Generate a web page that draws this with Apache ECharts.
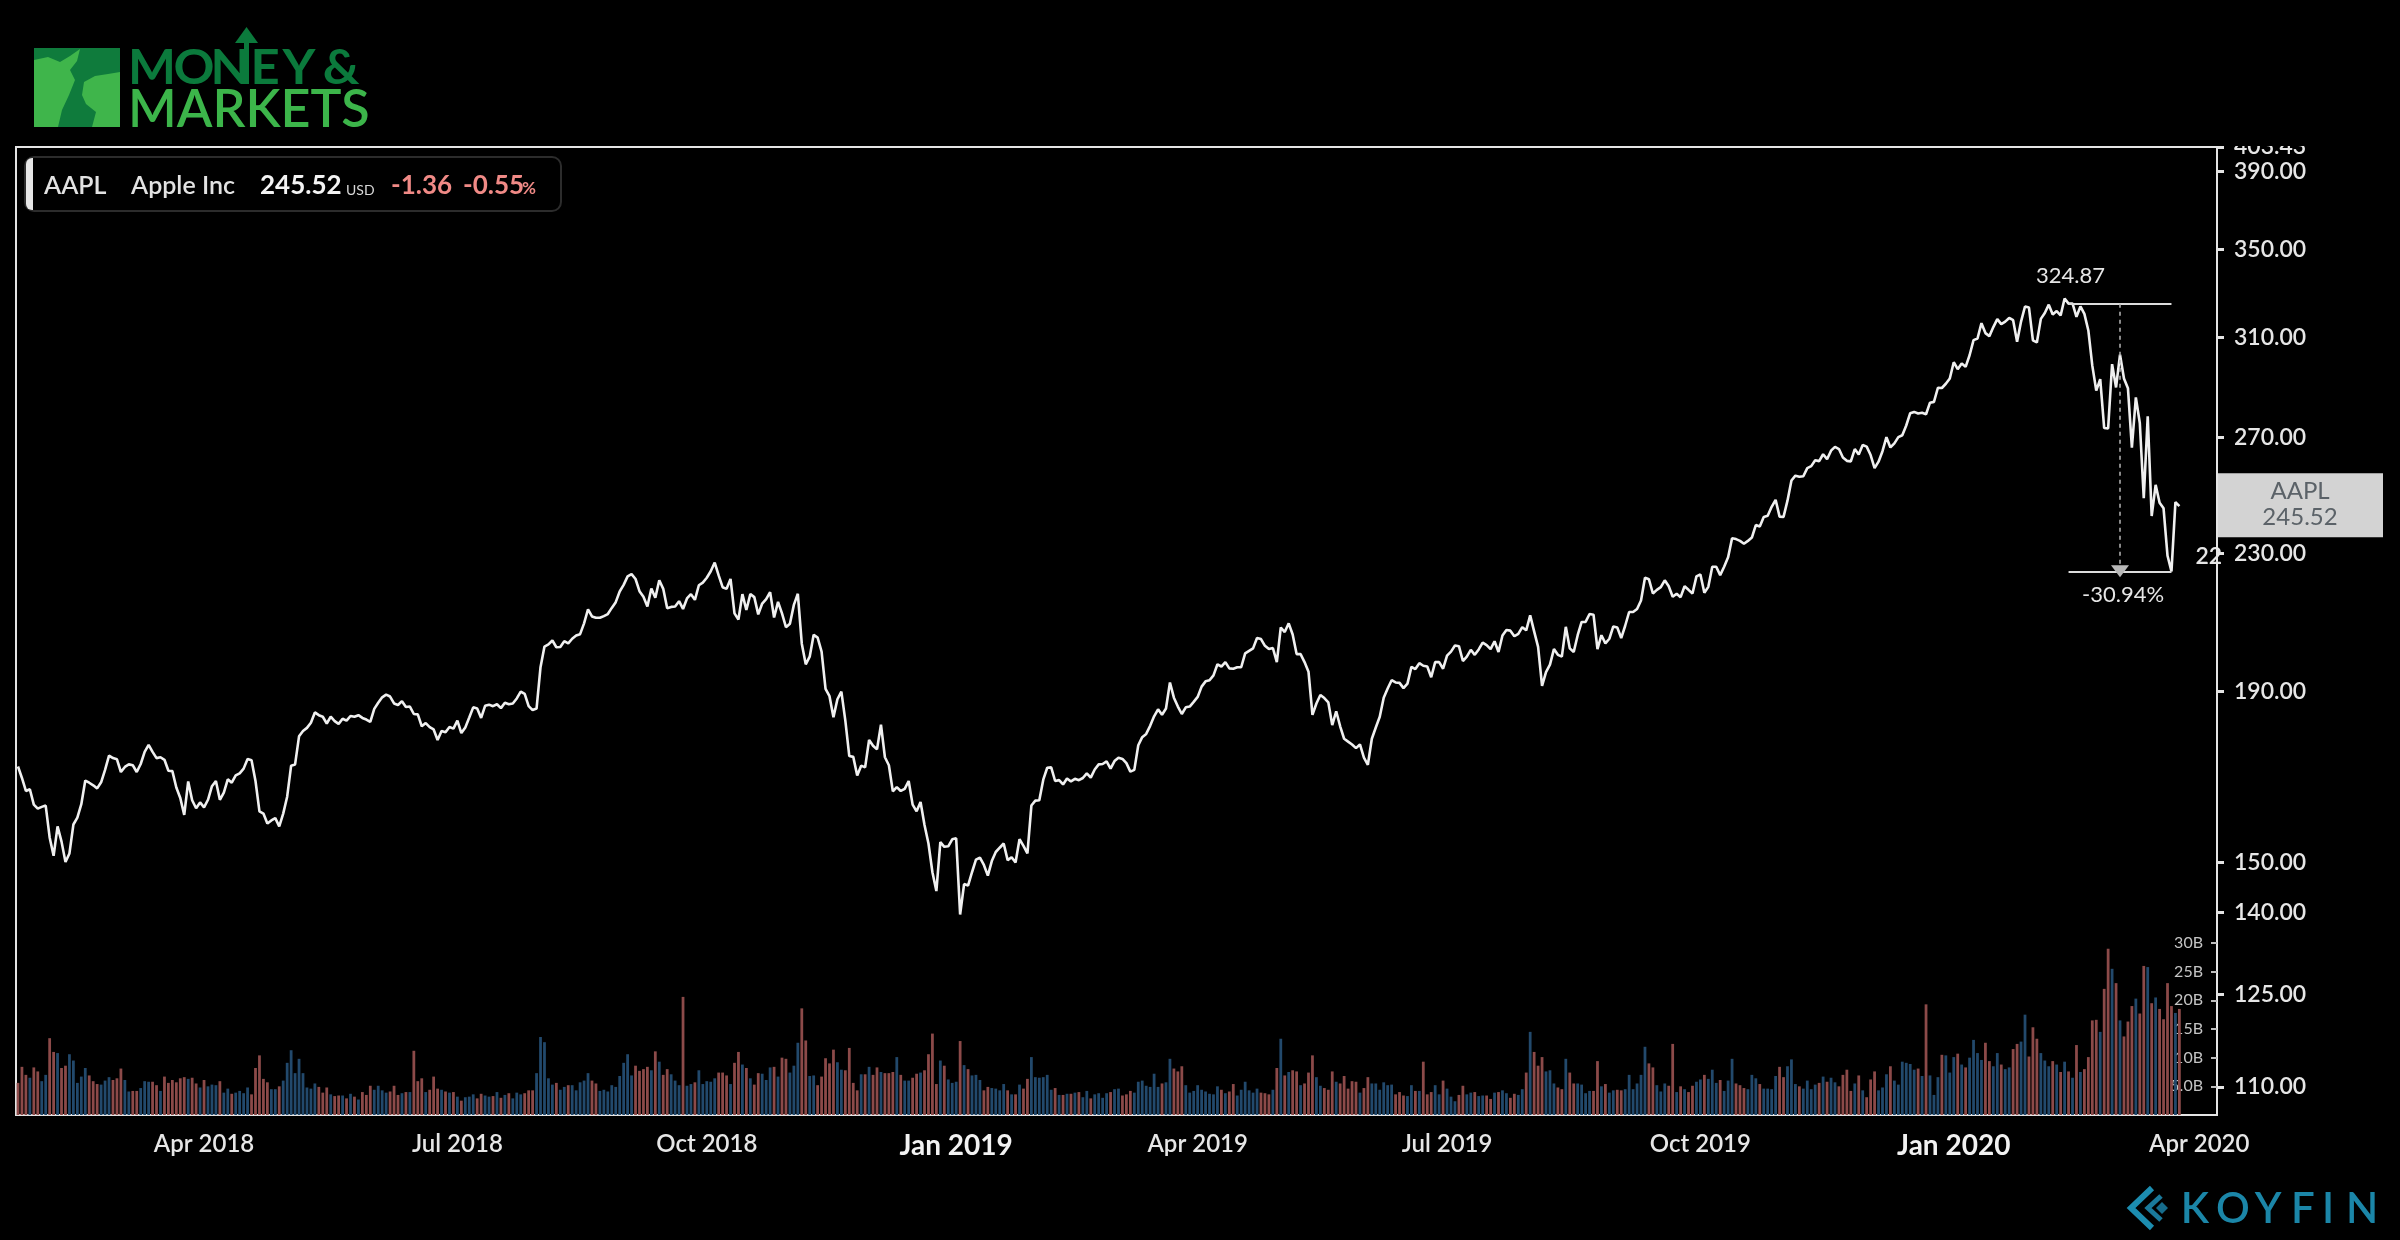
<!DOCTYPE html>
<html>
<head>
<meta charset="utf-8">
<title>AAPL - Apple Inc</title>
<script src="https://cdn.jsdelivr.net/npm/echarts@6/dist/echarts.min.js"></script>
<style>
  html, body { margin: 0; padding: 0; background: #000; }
  #main { width: 2400px; height: 1240px; }
</style>
</head>
<body>
<div id="main"></div>
<script>
// daily closes (USD, dividend adjusted), one array per month
const p2018Jan = [171.3, 168.6, 165.6, 166.0, 162.5, 161.6, 162.0];
const p2018Feb = [162.3, 155.3, 151.4, 157.7, 154.4, 150.1, 151.9, 158.1, 159.6, 162.6, 168.0, 167.5, 166.9, 166.2, 167.6, 170.5, 173.9, 173.3, 173.0];
const p2018Mar = [170.0, 171.2, 171.8, 171.6, 170.0, 171.9, 174.8, 176.5, 174.8, 173.3, 173.5, 172.9, 170.3, 170.2, 166.4, 164.0, 160.2, 167.8, 163.5, 161.7, 163.0];
const p2018Apr = [161.9, 163.6, 166.7, 167.9, 163.6, 165.2, 168.3, 167.5, 169.2, 169.7, 170.8, 173.1, 172.8, 167.9, 161.0, 160.5, 158.3, 159.0, 159.5, 157.7, 160.5];
const p2018May = [164.3, 171.5, 171.8, 178.6, 179.9, 180.7, 182.0, 184.6, 183.9, 183.5, 181.8, 183.5, 182.4, 181.7, 183.0, 182.5, 183.7, 183.5, 183.9, 183.2, 182.8, 182.2];
const p2018Jun = [185.5, 187.1, 188.5, 189.2, 188.7, 186.9, 186.5, 187.5, 186.0, 186.1, 184.2, 184.1, 181.1, 181.9, 180.9, 180.3, 177.7, 179.9, 179.6, 180.9, 180.5];
const p2018Jul = [182.5, 179.4, 180.8, 183.3, 185.9, 185.6, 183.2, 186.3, 186.6, 186.2, 186.7, 185.7, 187.1, 186.7, 186.9, 188.2, 190.0, 189.4, 186.2, 185.2, 185.6];
const p2018Aug = [196.5, 202.2, 202.8, 203.9, 202.0, 202.1, 203.7, 203.1, 204.4, 205.3, 205.7, 208.8, 212.9, 210.8, 210.4, 210.4, 210.9, 211.5, 213.3, 215.0, 218.2, 220.2, 222.8];
const p2018Sep = [223.5, 222.0, 218.3, 216.6, 213.7, 219.1, 216.3, 221.6, 219.0, 213.2, 213.6, 213.7, 215.3, 213.0, 216.1, 217.4, 215.7, 220.1, 220.9];
const p2018Oct = [222.4, 224.4, 227.1, 223.1, 219.5, 219.0, 222.0, 211.7, 209.9, 217.4, 212.7, 217.4, 216.5, 211.4, 214.6, 215.9, 218.0, 210.5, 215.1, 211.7, 207.7, 208.7, 214.2];
const p2018Nov = [217.5, 203.0, 197.3, 199.4, 205.5, 204.7, 200.8, 190.7, 188.8, 183.4, 188.0, 190.0, 182.5, 173.8, 173.6, 169.2, 171.5, 171.1, 177.7, 176.3, 175.4];
const p2018Dec = [181.5, 173.5, 171.6, 165.5, 166.5, 165.6, 166.1, 167.9, 162.5, 161.0, 163.1, 158.0, 154.0, 148.0, 144.2, 154.3, 153.3, 153.4, 154.9];
const p2019Jan = [155.1, 139.6, 145.6, 145.3, 148.0, 150.6, 151.0, 149.5, 147.3, 150.3, 152.2, 153.1, 154.0, 150.5, 151.1, 150.0, 154.9, 153.5, 151.9, 162.3, 163.4];
const p2019Feb = [163.5, 168.2, 171.0, 171.1, 167.9, 168.1, 167.1, 168.5, 167.8, 168.4, 168.1, 168.6, 169.7, 168.7, 170.6, 171.8, 171.9, 172.5, 170.8];
const p2019Mar = [172.6, 173.4, 173.1, 172.1, 170.1, 170.5, 176.4, 178.4, 179.2, 181.2, 183.6, 185.4, 184.0, 185.6, 192.4, 188.4, 186.1, 184.2, 185.9, 186.1, 187.3];
const p2019Apr = [188.6, 191.3, 192.7, 193.0, 194.3, 197.3, 196.7, 197.9, 196.2, 196.1, 196.5, 196.5, 200.3, 201.0, 201.7, 204.6, 204.3, 202.4, 201.5, 201.8, 197.9];
const p2019May = [207.6, 206.3, 208.8, 205.6, 200.1, 200.1, 197.9, 195.3, 184.0, 186.9, 189.1, 188.3, 187.2, 181.4, 184.9, 181.1, 178.0, 177.3, 176.6, 175.7, 176.6, 173.4];
const p2019Jun = [171.7, 178.0, 180.8, 183.5, 188.4, 190.8, 193.0, 192.4, 192.3, 190.9, 192.1, 196.6, 196.0, 197.6, 196.9, 196.7, 193.8, 197.9, 197.9, 196.1];
const p2019Jul = [199.7, 200.8, 202.5, 202.3, 198.2, 199.4, 201.3, 199.9, 201.4, 203.3, 202.6, 201.5, 203.7, 200.7, 205.3, 206.9, 206.7, 205.1, 205.8, 207.7, 206.8, 211.1];
const p2019Aug = [206.5, 202.1, 191.5, 195.2, 197.2, 201.5, 199.9, 199.4, 207.8, 201.7, 200.7, 205.4, 209.2, 209.2, 211.5, 211.3, 201.5, 205.4, 203.1, 204.4, 207.9, 207.6];
const p2019Sep = [204.6, 208.1, 212.1, 212.1, 213.0, 215.5, 222.4, 221.9, 217.6, 218.7, 219.5, 221.6, 219.8, 216.6, 217.5, 216.5, 219.8, 218.7, 217.6, 222.8];
const p2019Oct = [223.4, 217.8, 219.6, 225.8, 225.8, 223.2, 225.8, 228.8, 234.9, 234.6, 234.0, 233.1, 234.0, 235.1, 239.2, 238.7, 241.9, 242.3, 245.3, 247.7, 242.0, 241.9, 247.4];
const p2019Nov = [254.4, 256.1, 255.7, 255.9, 258.8, 259.5, 261.6, 261.3, 263.8, 262.0, 265.1, 266.5, 265.7, 262.6, 261.4, 261.2, 265.7, 263.7, 267.2, 266.6];
const p2019Dec = [263.5, 258.8, 261.1, 264.9, 270.1, 266.3, 267.8, 270.1, 270.8, 274.5, 279.2, 279.7, 279.1, 279.4, 278.8, 283.3, 283.6, 289.2, 289.1, 290.8, 292.9];
const p2020Jan = [299.6, 296.7, 299.1, 297.7, 302.5, 308.9, 309.6, 316.2, 311.9, 310.6, 314.5, 318.0, 315.8, 316.9, 318.5, 317.5, 308.2, 316.9, 323.6, 323.1, 308.8];
const p2020Feb = [307.9, 318.1, 320.7, 324.4, 320.03, 321.55, 319.61, 327.20, 324.87, 324.95, 319.00, 323.62, 320.30, 313.05, 298.18, 288.08, 292.65, 273.52, 273.36];
const p2020Mar = [298.81, 289.32, 302.74, 292.92, 289.03, 266.17, 285.34, 275.43, 248.23, 277.97, 242.21, 252.86, 246.67, 244.78, 229.24, 224.37, 246.88, 245.52];

// daily volume, billions USD
const v2018Jan = [5.6, 8.4, 7.0, 6.5, 8.3, 7.6, 5.9];
const v2018Feb = [7.0, 13.4, 11.0, 10.8, 8.2, 8.6, 10.6, 9.5, 5.6, 6.7, 8.2, 6.9, 5.9, 5.4, 5.3, 6.0, 6.6, 6.1, 6.4];
const v2018Mar = [8.1, 6.1, 4.1, 4.2, 4.2, 4.7, 5.9, 5.8, 5.8, 5.2, 4.2, 6.7, 5.6, 6.1, 5.7, 6.4, 6.6, 6.3, 6.5, 5.5, 4.8];
const v2018Apr = [6.1, 5.0, 5.3, 5.2, 5.9, 3.9, 4.6, 3.7, 3.9, 4.2, 3.8, 4.8, 3.6, 8.2, 10.4, 6.3, 5.7, 4.5, 4.5, 5.0, 6.0];
const v2018May = [9.1, 11.3, 7.3, 9.8, 7.3, 4.8, 4.6, 5.5, 4.9, 3.9, 4.8, 3.6, 3.3, 3.4, 3.4, 2.9, 3.7, 3.2, 2.7, 4.0, 3.5, 5.1];
const v2018Jun = [4.4, 5.1, 4.3, 3.9, 4.1, 5.1, 3.5, 3.8, 4.0, 4.0, 11.2, 5.9, 6.4, 4.0, 4.4, 6.7, 4.6, 4.4, 4.1, 3.9, 4.0];
const v2018Jul = [3.2, 2.5, 3.1, 3.2, 3.6, 2.9, 3.7, 3.4, 3.2, 3.3, 4.0, 3.0, 3.5, 3.8, 2.9, 3.9, 3.6, 3.8, 4.3, 4.3, 7.3];
const v2018Aug = [13.6, 12.7, 6.4, 5.3, 5.6, 4.4, 4.9, 5.2, 5.2, 4.3, 5.7, 6.0, 7.3, 6.0, 5.5, 4.2, 4.4, 4.1, 5.2, 4.9, 6.8, 9.1, 10.6];
const v2018Sep = [6.9, 8.6, 7.7, 8.0, 8.4, 7.8, 11.1, 9.3, 7.0, 8.0, 7.1, 6.0, 5.2, 20.6, 5.1, 5.4, 5.7, 7.8, 5.4];
const v2018Oct = [5.9, 5.8, 6.4, 7.4, 7.4, 6.9, 5.4, 9.1, 11.0, 8.8, 8.2, 6.4, 5.3, 7.3, 7.2, 6.1, 8.3, 8.4, 6.7, 10.0, 9.8, 7.4, 8.6];
const v2018Nov = [12.6, 18.6, 13.0, 6.8, 6.9, 5.2, 6.7, 9.9, 9.0, 11.4, 9.2, 7.9, 7.8, 11.7, 5.6, 4.3, 7.1, 7.1, 8.4, 7.0, 8.3];
const v2018Dec = [7.5, 7.3, 7.3, 7.5, 10.1, 7.0, 6.0, 6.0, 6.5, 7.2, 7.4, 7.8, 10.6, 14.2, 5.4, 9.5, 8.6, 6.2, 5.6];
const v2019Jan = [5.8, 12.9, 8.7, 8.0, 6.9, 7.0, 6.1, 4.3, 4.9, 4.7, 4.6, 4.3, 5.4, 4.3, 3.6, 3.6, 5.3, 4.6, 6.3, 10.1, 6.6];
const v2019Feb = [6.5, 6.6, 7.0, 4.4, 4.7, 3.5, 3.5, 3.7, 3.7, 3.9, 4.0, 3.1, 4.2, 2.9, 3.6, 3.8, 3.0, 3.8, 4.0];
const v2019Mar = [4.5, 4.6, 3.4, 3.6, 4.2, 3.9, 5.8, 6.0, 5.1, 4.9, 7.2, 4.9, 5.5, 5.7, 9.8, 8.1, 7.6, 8.5, 5.2, 3.9, 4.2];
const v2019Apr = [5.2, 4.4, 4.1, 3.7, 3.6, 5.0, 4.4, 3.8, 4.1, 5.4, 3.4, 4.4, 5.8, 4.3, 3.9, 4.6, 3.9, 3.8, 3.6, 4.4, 8.2];
const v2019May = [13.3, 6.9, 7.5, 7.8, 7.6, 5.2, 5.5, 7.4, 10.4, 6.6, 5.1, 4.7, 4.4, 7.6, 5.8, 5.5, 6.8, 4.6, 5.9, 5.8, 3.9, 4.7];
const v2019Jun = [6.6, 5.5, 5.5, 4.4, 5.7, 5.2, 5.3, 3.6, 4.0, 3.4, 3.3, 5.2, 4.2, 4.2, 9.3, 3.6, 4.0, 5.2, 3.6, 6.0];
const v2019Jul = [4.6, 3.2, 2.4, 3.5, 5.1, 3.6, 3.9, 4.0, 3.3, 3.4, 3.4, 2.8, 3.9, 4.0, 4.3, 3.8, 3.0, 3.7, 3.5, 4.5, 7.4, 14.5];
const v2019Aug = [11.0, 8.6, 10.1, 7.6, 7.8, 5.5, 4.8, 4.5, 9.8, 7.4, 5.5, 5.5, 5.3, 3.8, 4.2, 4.2, 9.4, 5.0, 5.4, 3.9, 4.3, 4.4];
const v2019Sep = [4.3, 4.5, 7.0, 4.5, 5.5, 7.0, 11.9, 9.0, 8.3, 5.2, 4.1, 5.5, 5.1, 12.4, 4.0, 5.0, 4.5, 4.0, 5.1, 5.8];
const v2019Oct = [6.2, 7.0, 6.3, 7.9, 5.6, 6.1, 4.2, 6.0, 9.8, 5.5, 5.2, 4.7, 4.5, 7.0, 6.4, 5.4, 4.6, 4.6, 4.5, 6.8, 8.4, 6.6, 8.5];
const v2019Nov = [9.7, 5.4, 5.0, 4.6, 6.0, 4.5, 5.3, 5.6, 6.7, 5.8, 6.5, 5.7, 5.0, 7.0, 7.9, 4.2, 5.5, 6.9, 4.3, 3.1];
const v2019Dec = [6.2, 7.6, 4.3, 4.8, 7.1, 8.5, 6.0, 5.3, 9.3, 9.1, 8.9, 7.9, 8.1, 6.8, 19.3, 6.9, 3.5, 6.6, 10.5, 10.4, 7.4];
const v2020Jan = [10.1, 10.7, 8.8, 8.3, 10.0, 13.1, 10.8, 9.6, 12.6, 9.4, 8.5, 10.8, 8.8, 8.0, 8.3, 11.5, 12.4, 12.8, 17.5, 10.2, 15.3];
const v2020Feb = [13.3, 10.8, 9.5, 8.5, 9.4, 8.8, 7.5, 9.3, 7.6, 6.5, 12.2, 7.5, 8.0, 10.1, 16.5, 16.6, 14.5, 22.0, 29.0];
const v2020Mar = [25.5, 23.0, 16.5, 13.7, 16.3, 19.0, 20.3, 17.7, 26.0, 25.8, 19.5, 20.5, 18.5, 16.7, 23.0, 19.0, 17.8, 18.5];

// right axis labels
const priceTicks = [110, 125, 140, 150, 190, 230, 270, 310, 350, 390, 403.43];
const PRICE_MIN = 105.8, PRICE_MAX = 403.43;

// measure tool: peak -> low
const PEAK_DATE = '2020-02-13', PEAK = 324.87;
const LOW_DATE = '2020-03-23', LOW = 224.37;
const MID_DATE = '2020-03-04';
const DRAWDOWN = '-30.94%';

// market holidays inside the range
const HOLIDAYS = ['2018-02-19', '2018-03-30', '2018-05-28', '2018-07-04', '2018-09-03', '2018-11-22', '2018-12-05',
  '2018-12-25', '2019-01-01', '2019-01-21', '2019-02-18', '2019-04-19', '2019-05-27', '2019-07-04', '2019-09-02',
  '2019-11-28', '2019-12-25', '2020-01-01', '2020-01-20', '2020-02-17'];

const closes = [].concat(p2018Jan, p2018Feb, p2018Mar, p2018Apr, p2018May, p2018Jun, p2018Jul, p2018Aug, p2018Sep,
  p2018Oct, p2018Nov, p2018Dec, p2019Jan, p2019Feb, p2019Mar, p2019Apr, p2019May, p2019Jun, p2019Jul, p2019Aug,
  p2019Sep, p2019Oct, p2019Nov, p2019Dec, p2020Jan, p2020Feb, p2020Mar);
const volumes = [].concat(v2018Jan, v2018Feb, v2018Mar, v2018Apr, v2018May, v2018Jun, v2018Jul, v2018Aug, v2018Sep,
  v2018Oct, v2018Nov, v2018Dec, v2019Jan, v2019Feb, v2019Mar, v2019Apr, v2019May, v2019Jun, v2019Jul, v2019Aug,
  v2019Sep, v2019Oct, v2019Nov, v2019Dec, v2020Jan, v2020Feb, v2020Mar);

// trading days 2018-01-23 .. 2020-04-07 (axis runs a little past the last close)
const dates = [];
for (let t = Date.UTC(2018, 0, 23); t <= Date.UTC(2020, 3, 7); t += 86400000) {
  const d = new Date(t);
  const s = d.toISOString().slice(0, 10);
  if (d.getUTCDay() === 0 || d.getUTCDay() === 6 || HOLIDAYS.includes(s)) continue;
  dates.push(s);
}

const MONTHS = ['Jan', 'Feb', 'Mar', 'Apr', 'May', 'Jun', 'Jul', 'Aug', 'Sep', 'Oct', 'Nov', 'Dec'];
const quarterStart = function (idx, val) {
  if (idx === 0) return false;
  const m = val.slice(5, 7);
  return ['01', '04', '07', '10'].includes(m) && dates[idx - 1].slice(5, 7) !== m;
};

const RED = '#8c4a49', BLUE = '#22496c';
const volData = volumes.map((v, i) => ({
  value: v,
  itemStyle: { color: i > 0 && closes[i] >= closes[i - 1] ? BLUE : RED }
}));

const FONT = 'Lato, "Open Sans", sans-serif';
const chart = echarts.init(document.getElementById('main'));

const option = {
  backgroundColor: '#000',
  animation: false,
  textStyle: { fontFamily: FONT },
  grid: [
    { left: 16, right: 183, top: 147, bottom: 125, show: true, borderColor: '#e4e4e4', borderWidth: 2 },
    { left: 16, right: 183, top: 943, bottom: 125 }
  ],
  xAxis: [
    {
      type: 'category', gridIndex: 0, data: dates, boundaryGap: true,
      axisLine: { lineStyle: { color: '#e4e4e4', width: 2 } },
      axisTick: { interval: quarterStart, alignWithLabel: true, length: 10, lineStyle: { color: '#e4e4e4', width: 2 } },
      axisLabel: {
        interval: quarterStart, margin: 17, hideOverlap: false,
        formatter: function (val) {
          const m = +val.slice(5, 7);
          const txt = MONTHS[m - 1] + ' ' + val.slice(0, 4);
          return m === 1 ? '{j|' + txt + '}' : '{n|' + txt + '}';
        },
        rich: {
          n: { fontSize: 24, fontWeight: 600, color: '#e6e6e6', fontFamily: FONT },
          j: { fontSize: 28, fontWeight: 'bold', color: '#f2f2f2', fontFamily: FONT }
        }
      },
      splitLine: { show: false }
    },
    { type: 'category', gridIndex: 1, data: dates, boundaryGap: true, show: false }
  ],
  yAxis: [
    {
      type: 'log', gridIndex: 0, position: 'right', min: PRICE_MIN, max: PRICE_MAX,
      axisLine: { show: true, lineStyle: { color: '#e4e4e4', width: 2 } },
      axisTick: { show: true, customValues: priceTicks, length: 7, lineStyle: { color: '#e4e4e4', width: 3 } },
      axisLabel: {
        customValues: priceTicks, margin: 17, color: '#e6e6e6', fontSize: 23, fontWeight: 600,
        formatter: v => (+v).toFixed(2)
      },
      splitLine: { show: false }
    },
    {
      type: 'value', gridIndex: 1, position: 'right', min: 0, max: 30, interval: 5,
      axisLine: { show: false },
      axisTick: { show: true, inside: true, length: 6, lineStyle: { color: '#bdbdbd', width: 2 } },
      axisLabel: {
        inside: true, margin: 14, color: '#c4c4c4', fontSize: 16, showMinLabel: false,
        formatter: v => (v < 10 ? v.toFixed(1) : v) + 'B'
      },
      splitLine: { show: false }
    }
  ],
  series: [
    {
      name: 'Volume', type: 'bar', xAxisIndex: 1, yAxisIndex: 1, data: volData,
      barCategoryGap: '30%', silent: true
    },
    {
      name: 'AAPL', type: 'line', xAxisIndex: 0, yAxisIndex: 0, data: closes,
      symbol: 'none', showSymbol: false, silent: true, z: 3,
      lineStyle: { color: '#f0f0f0', width: 2.6 },
      markLine: {
        silent: true, symbol: ['none', 'none'], label: { show: false },
        lineStyle: { color: '#dcdcdc', width: 2, type: 'solid' },
        data: [
          [{ coord: [PEAK_DATE, PEAK] }, { coord: [LOW_DATE, PEAK] }],
          [{ coord: [PEAK_DATE, LOW] }, { coord: [LOW_DATE, LOW] }],
          [{ coord: [MID_DATE, PEAK], lineStyle: { type: [4, 4], width: 1.5, color: '#b8b8b8' } },
           { coord: [MID_DATE, LOW], symbol: 'triangle', symbolSize: [18, 12] }]
        ]
      }
    }
  ]
};
chart.setOption(option);

// annotations placed through the chart's own scales
const lastClose = closes[closes.length - 1];
const yLast = chart.convertToPixel({ yAxisIndex: 0 }, lastClose);
const yPeak = chart.convertToPixel({ yAxisIndex: 0 }, PEAK);
const yLow = chart.convertToPixel({ yAxisIndex: 0 }, LOW);
const xPeak = chart.convertToPixel({ xAxisIndex: 0 }, PEAK_DATE);
const xMid = chart.convertToPixel({ xAxisIndex: 0 }, MID_DATE);
const xLow = chart.convertToPixel({ xAxisIndex: 0 }, LOW_DATE);

const txt = (x, y, text, size, weight, fill, align, extra) => Object.assign({
  type: 'text', x: x, y: y, z: 50,
  style: { text: text, fill: fill, fontSize: size, fontWeight: weight, fontFamily: FONT,
           align: align || 'left', verticalAlign: 'middle' }
}, extra || {});

const graphics = [
  // hide the upper half of the top label (canvas edge)
  { type: 'rect', z: 100, shape: { x: 2219, y: 0, width: 181, height: 146 }, style: { fill: '#000' } },

  // Money & Markets logo
  { type: 'rect', z: 50, shape: { x: 34, y: 48, width: 86, height: 79 }, style: { fill: '#0f7b3c' } },
  { type: 'polygon', z: 51, shape: { points: [[34, 60], [48, 57], [60, 62], [70, 56], [80, 49], [77, 61], [70, 70], [75, 80],
      [69, 95], [62, 110], [58, 127], [34, 127]] }, style: { fill: '#3fb54b' } },
  { type: 'polygon', z: 51, shape: { points: [[84, 82], [95, 76], [108, 74], [120, 72], [120, 127], [92, 127], [96, 112],
      [86, 104], [82, 95]] }, style: { fill: '#3fb54b' } },
  { type: 'rect', z: 52, shape: { x: 244, y: 38, width: 5, height: 46 }, style: { fill: '#0b7a3c' } },
  { type: 'polygon', z: 52, shape: { points: [[235, 43], [246.5, 27], [258, 43]] }, style: { fill: '#0b7a3c' } },
  txt(128, 110, 'MARKETS', 52, 600, '#3cb54a'),

  // ticker header
  { type: 'rect', z: 50, shape: { x: 25, y: 157, width: 536, height: 54, r: 9 }, style: { fill: '#000', stroke: '#2c2c2c', lineWidth: 2 } },
  { type: 'rect', z: 51, shape: { x: 26, y: 158, width: 7, height: 52, r: [6, 0, 0, 6] }, style: { fill: '#e6e6e6' } },
  txt(44, 186, 'AAPL', 25, 600, '#e2e2e2'),
  txt(131, 186, 'Apple Inc', 25, 600, '#e2e2e2'),
  txt(260, 186, '245.52', 26, 'bold', '#f4f4f4'),
  txt(346, 190, 'USD', 14, 'normal', '#d8d8d8'),
  txt(391, 186, '-1.36', 26, 'bold', '#f08a86'),
  txt(463, 186, '-0.55', 26, 'bold', '#f08a86'),
  txt(522, 189, '%', 17, 'bold', '#f08a86'),

  // last price tag on the axis
  { type: 'rect', z: 60, shape: { x: 2218, y: yLast - 33, width: 165, height: 64 }, style: { fill: '#d3d3d3' } },
  txt(2300, yLast - 15, 'AAPL', 24, 'normal', '#5b6268', 'center', { z: 61 }),
  txt(2300, yLast + 11, lastClose.toFixed(2), 24, 'normal', '#5b6268', 'center', { z: 61 }),

  // measure tool texts
  txt(xPeak + 2, yPeak - 28, PEAK.toFixed(2), 22, 'normal', '#e6e6e6', 'center'),
  txt(xMid + 3, yLow + 24, DRAWDOWN, 22, 'normal', '#e6e6e6', 'center'),
  txt(xLow + 24, yLow - 15, '22', 23, 600, '#e6e6e6', 'left', { z: 1 }),

  // KOYFIN logo
  { type: 'polyline', z: 50, shape: { points: [[2152, 1188], [2131, 1208], [2152, 1228]] }, style: { stroke: '#1c8db0', lineWidth: 6, fill: null } },
  { type: 'polyline', z: 50, shape: { points: [[2161, 1196], [2148, 1208], [2161, 1220]] }, style: { stroke: '#1a7a9c', lineWidth: 5, fill: null } },
  { type: 'polygon', z: 50, shape: { points: [[2156, 1208], [2162, 1202], [2168, 1208], [2162, 1214]] }, style: { fill: '#166c8c' } }
];
// "MONEY&" letters, spread like the wide logo face
const MONEY = [['M', 152], ['O', 194], ['N', 230], ['E', 265], ['Y', 299], ['&', 341]];
MONEY.forEach(k => graphics.push(txt(k[1], 69, k[0], 47, 'bold', '#0b7a3c', 'center', { scaleX: 1.08, originX: 0 })));
const KOY = [['K', 2195], ['O', 2233], ['Y', 2268], ['F', 2303], ['I', 2328], ['N', 2362]];
KOY.forEach(k => graphics.push(txt(k[1], 1209, k[0], 42, 600, '#1b86a8', 'center')));

chart.setOption({ graphic: graphics });
</script>
</body>
</html>
